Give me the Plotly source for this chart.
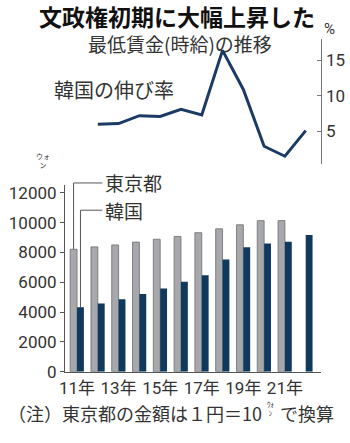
import plotly.graph_objects as go

W, H = 350, 443

years = [2011, 2012, 2013, 2014, 2015, 2016, 2017, 2018, 2019, 2020, 2021, 2022]
tokyo = [8210, 8370, 8500, 8690, 8880, 9070, 9320, 9580, 9850, 10130, 10130, None]
korea = [4320, 4580, 4860, 5210, 5580, 6030, 6470, 7530, 8350, 8590, 8720, 9160]
growth_years = [2012, 2013, 2014, 2015, 2016, 2017, 2018, 2019, 2020, 2021, 2022]
growth = [6.0, 6.1, 7.2, 7.1, 8.1, 7.3, 16.4, 10.9, 2.9, 1.5, 5.1]
bar_ticks = [0, 2000, 4000, 6000, 8000, 10000, 12000]
bar_ticktext = ["0", "2000", "4000", "6000", "8000", "10000", "12000"]
line_ticks = [5, 10, 15]
x_tickvals = [2011, 2013, 2015, 2017, 2019, 2021]
x_ticktext = ["11年", "13年", "15年", "17年", "19年", "21年"]

CJK = "Noto Sans CJK JP"
NUM = "Liberation Sans Narrow, Roboto, " + CJK
GRAY = "#a7a8ab"
NAVY = "#0f3a5e"
TXT = "#333333"


def py(p):
    return 1 - p / H


def px(p):
    return p / W


xr = [2010.42, 2022.76]
xdom = [px(60), px(321)]
yr = [0, 12500]
ydom = [py(380), py(188.4)]
y2r = [0.34, 18.0]
y2dom = [py(167), py(38)]

fig = go.Figure()
fig.add_trace(go.Bar(x=years, y=tokyo, marker=dict(color=GRAY, line=dict(color="#77777a", width=0.9)),
                     xaxis="x", yaxis="y", name="東京都"))
fig.add_trace(go.Bar(x=years, y=korea, marker=dict(color=NAVY, line=dict(width=0)),
                     xaxis="x", yaxis="y", name="韓国"))
fig.add_trace(go.Scatter(x=growth_years, y=growth, mode="lines", line=dict(color="#1b3b66", width=3),
                         xaxis="x2", yaxis="y2"))

fig.update_layout(
    width=W, height=H,
    margin=dict(l=0, r=0, t=0, b=0),
    paper_bgcolor="white", plot_bgcolor="white",
    showlegend=False,
    barmode="group", bargap=0.34, bargroupgap=0,
    xaxis=dict(domain=xdom, range=xr, anchor="y", tickvals=x_tickvals, ticktext=x_ticktext,
               showgrid=False, zeroline=False, showline=True, linecolor="#555", linewidth=1.2,
               ticks="", tickfont=dict(family=NUM, size=17, color=TXT), ticklabelstandoff=1),
    yaxis=dict(domain=ydom, range=yr, anchor="x", tickvals=bar_ticks, ticktext=bar_ticktext,
               showgrid=False, zeroline=False,
               showline=True, linecolor="#555", linewidth=1, ticks="outside", ticklen=4, tickcolor="#555",
               tickfont=dict(family=NUM, size=17, color=TXT)),
    xaxis2=dict(domain=xdom, range=xr, anchor="y2", visible=False),
    yaxis2=dict(domain=y2dom, range=y2r, anchor="x2", side="right", tickvals=line_ticks,
                showgrid=False, zeroline=False, showline=True, linecolor="#777", linewidth=1,
                ticks="inside", ticklen=4, tickcolor="#777",
                tickfont=dict(family=NUM, size=17, color=TXT)),
)

ann = [
    dict(text="<b>文政権初期に大幅上昇した</b>", x=px(174), y=py(14), font=dict(family=CJK, size=23, color="#111"),
         xanchor="center", yanchor="middle"),
    dict(text="最低賃金(時給)の推移", x=px(177), y=py(43), font=dict(family=CJK, size=19, color=TXT),
         xanchor="center", yanchor="middle"),
    dict(text="韓国の伸び率", x=px(47), y=py(90), font=dict(family=CJK, size=20, color=TXT),
         xanchor="left", yanchor="middle"),
    dict(text="%", x=px(322), y=py(28), font=dict(family=NUM, size=15, color=TXT),
         xanchor="left", yanchor="middle"),
    dict(text="ウォ<br>ン", x=px(28), y=py(163), font=dict(family=CJK, size=7, color=TXT),
         xanchor="left", yanchor="middle"),
    dict(text="東京都", x=px(99), y=py(186), font=dict(family=CJK, size=19, color=TXT),
         xanchor="left", yanchor="middle"),
    dict(text="韓国", x=px(99), y=py(214), font=dict(family=CJK, size=19, color=TXT),
         xanchor="left", yanchor="middle"),
    dict(text="（注）東京都の金額は１円＝10", x=px(263), y=py(422),
         font=dict(family=CJK, size=18, color=TXT), xanchor="right", yanchor="middle"),
    dict(text="ｳｫ<br>ﾝ", x=px(264), y=py(418),
         font=dict(family=CJK, size=7, color=TXT), xanchor="left", yanchor="middle"),
    dict(text="で換算", x=px(277), y=py(422),
         font=dict(family=CJK, size=18, color=TXT), xanchor="left", yanchor="middle"),
]
for a in ann:
    a.update(xref="paper", yref="paper", showarrow=False)
fig.update_layout(annotations=ann)


def val_to_paper(v):
    return ydom[0] + (v - yr[0]) / (yr[1] - yr[0]) * (ydom[1] - ydom[0])


half = (1 - 0.34) / 4  # half a bar width in data units
tk_x = years[0] - half
kr_x = years[0] + half
end_x = xr[0] + (98 - 60) / 21.15
shapes = [
    dict(type="path", xref="x", yref="paper",
         path=f"M {tk_x},{val_to_paper(tokyo[0])} L {tk_x},{py(186)} L {end_x},{py(186)}",
         line=dict(color="#555", width=1)),
    dict(type="path", xref="x", yref="paper",
         path=f"M {kr_x},{val_to_paper(korea[0])} L {kr_x},{py(214)} L {end_x},{py(214)}",
         line=dict(color="#555", width=1)),
]
fig.update_layout(shapes=shapes)

fig.write_html("out.html")
